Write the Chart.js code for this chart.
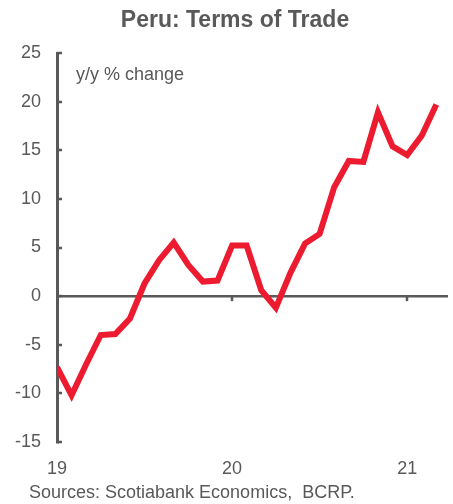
<!DOCTYPE html>
<html>
<head>
<meta charset="utf-8">
<script src="https://cdn.jsdelivr.net/npm/chart.js@4"></script>
<style>
  html, body { margin: 0; padding: 0; background: #fff; }
  #wrap { width: 453px; height: 504px; position: relative; }
</style>
</head>
<body>
<div id="wrap"><canvas id="chart"></canvas></div>
<script>
// monthly, Jan 2019 .. Mar 2021
const months = ['2019-01','2019-02','2019-03','2019-04','2019-05','2019-06','2019-07','2019-08','2019-09','2019-10','2019-11','2019-12',
                '2020-01','2020-02','2020-03','2020-04','2020-05','2020-06','2020-07','2020-08','2020-09','2020-10','2020-11','2020-12',
                '2021-01','2021-02','2021-03'];
const termsOfTrade = [-7.3, -10.2, -7.0, -4.0, -3.9, -2.3, 1.3, 3.7, 5.5, 3.2, 1.5, 1.6,
                     5.2, 5.2, 0.6, -1.2, 2.4, 5.4, 6.4, 11.2, 13.9, 13.8, 18.9, 15.4,
                     14.5, 16.5, 19.7];
const yearTicks = [0, 12, 24];
const yearLabels = ['19', '20', '21'];
const yTicks = [-15, -10, -5, 0, 5, 10, 15, 20, 25];

const GREY = '#595959';
const RED = '#ED1B2F';
const FONT = '"Liberation Sans", Arial, sans-serif';

// inward tick marks, title, annotation and source note
const extras = {
    id: 'extras',
    afterDatasetsDraw(chart) {
        const { ctx, chartArea, scales: { x, y } } = chart;
        ctx.save();
        ctx.strokeStyle = GREY;
        ctx.lineWidth = 2.5;
        yTicks.forEach(v => {
            const py = Math.round(y.getPixelForValue(v));
            ctx.beginPath();
            ctx.moveTo(chartArea.left, py);
            ctx.lineTo(chartArea.left + 5, py);
            ctx.stroke();
        });
        const zy = y.getPixelForValue(0);
        yearTicks.slice(1).forEach(v => {
            const px = Math.round(x.getPixelForValue(v));
            ctx.beginPath();
            ctx.moveTo(px, zy);
            ctx.lineTo(px, zy + 5);
            ctx.stroke();
        });

        ctx.fillStyle = GREY;
        ctx.textBaseline = 'alphabetic';
        ctx.textAlign = 'center';
        ctx.font = 'bold 23px ' + FONT;
        ctx.fillText('Peru: Terms of Trade', 235, 27);

        ctx.textAlign = 'left';
        ctx.font = '18px ' + FONT;
        ctx.fillText('y/y % change', 76, 80);
        ctx.fillText('Sources: Scotiabank Economics,  BCRP.', 29, 498);
        ctx.restore();
    }
};

new Chart(document.getElementById('chart'), {
    type: 'line',
    data: {
        datasets: [{
            data: termsOfTrade.map((v, i) => ({ x: i, y: v })),
            borderColor: RED,
            borderWidth: 6,
            pointRadius: 0,
            tension: 0,
            borderJoinStyle: 'miter'
        }]
    },
    options: {
        responsive: true,
        maintainAspectRatio: false,
        animation: false,
        layout: { padding: { left: 0, right: 5, top: 53, bottom: 0 } },
        plugins: {
            legend: { display: false },
            tooltip: { enabled: false },
            title: { display: false }
        },
        scales: {
            x: {
                type: 'linear',
                min: 0,
                max: 26.8,
                grid: { display: false },
                border: { display: false },
                afterBuildTicks: s => { s.ticks = yearTicks.map(v => ({ value: v })); },
                afterFit: s => { s.height = 62; },
                ticks: {
                    autoSkip: false,
                    maxRotation: 0,
                    padding: 8,
                    color: GREY,
                    font: { family: FONT, size: 18 },
                    callback: v => yearLabels[yearTicks.indexOf(v)]
                }
            },
            y: {
                min: -15,
                max: 25,
                afterBuildTicks: s => { s.ticks = yTicks.map(v => ({ value: v })); },
                afterFit: s => { s.width = 57; },
                grid: {
                    drawTicks: false,
                    color: c => (c.tick && c.tick.value === 0) ? GREY : 'rgba(0,0,0,0)',
                    lineWidth: 2.5
                },
                border: { display: true, color: GREY, width: 3 },
                ticks: {
                    padding: 16,
                    color: GREY,
                    font: { family: FONT, size: 18 }
                }
            }
        }
    },
    plugins: [extras]
});
</script>
</body>
</html>
